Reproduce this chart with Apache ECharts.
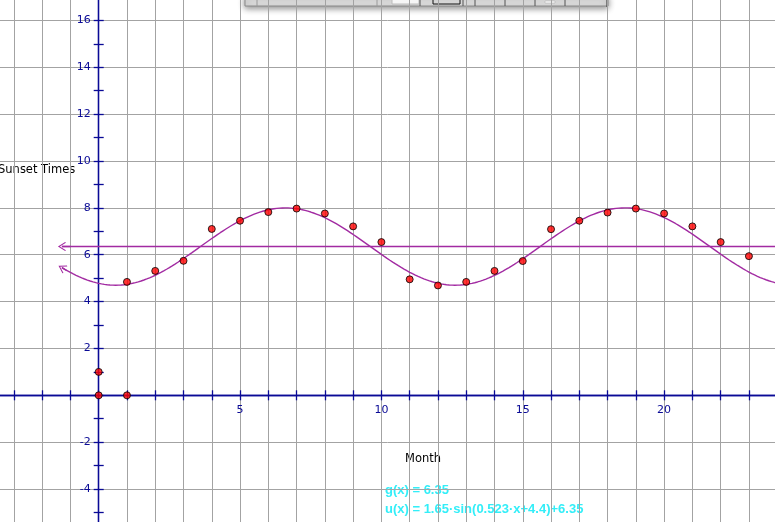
<!DOCTYPE html>
<html>
<head>
<meta charset="utf-8">
<title>Sunset Times</title>
<style>
  html, body { margin: 0; padding: 0; background: #fff; overflow: hidden; }
  #main { width: 775px; height: 522px; }
</style>
</head>
<body>
<div id="main"></div>
<script src="https://cdn.jsdelivr.net/npm/echarts@6/dist/echarts.min.js"></script>
<script>
// data
var months = [1, 2, 3, 4, 5, 6, 7, 8, 9, 10, 11, 12, 13, 14, 15, 16, 17, 18, 19, 20, 21, 22, 23];
var sunset = [4.84, 5.31, 5.74, 7.10, 7.45, 7.82, 7.97, 7.76, 7.21, 6.54, 4.95, 4.69,
              4.84, 5.31, 5.73, 7.09, 7.45, 7.80, 7.97, 7.76, 7.21, 6.54, 5.94];
// the unit points of the sketch: origin, (0,1), (1,0)
var unitPoints = [[0, 0], [0, 1], [1, 0]];
// coefficients printed under the chart
var gValue = 6.35;
var uAmp = 1.65, uFreq = 0.523, uPhase = 4.4, uMid = 6.35;
var xLabelTicks = [5, 10, 15, 20];
var curveStart = -1.3, curveEnd = 24;

var axisBlue = '#0a0a96';
var purple = '#a22ba2';
var gridGray = '#a3a3a3';

// grid box is bigger than the canvas so that the axes can start on whole numbers
var gridLeft = -14.4, gridRight = -2.2, gridTop = -3.0, gridBottom = -13.9;
var originX = 98.7, originY = 395.3;

function u(x) {
    return uAmp * Math.sin(uFreq * x + uPhase) + uMid;
}

var points = months.map(function (m, i) { return [m, sunset[i]]; });

// plot of u(x)
var curve = [];
for (var x = curveStart; x <= curveEnd + 1e-9; x += 0.05) {
    curve.push([x, u(x)]);
}

// open arrow head like the sketchpad one
var chevron = 'path://M0,0 L6,9 L5,10 L0,2.4 L-5,10 L-6,9 Z';

var myChart = echarts.init(document.getElementById('main'), null, {renderer: 'canvas'});
var W = 775, H = 522;

var option = {
    backgroundColor: '#fff',
    animation: false,
    textStyle: {fontFamily: 'DejaVu Sans'},
    grid: {
        left: gridLeft, right: gridRight, top: gridTop, bottom: gridBottom,
        containLabel: false, outerBoundsMode: 'none'
    },
    xAxis: [
        {
            type: 'value', min: -4, max: 24, interval: 1, position: 'bottom',
            offset: -((H - gridBottom) - originY),
            axisLine: {show: true, onZero: false, lineStyle: {color: axisBlue, width: 1.3}},
            axisTick: {show: true, length: 5, lineStyle: {color: axisBlue, width: 1.3}},
            axisLabel: {
                color: axisBlue, fontSize: 11, margin: 9,
                formatter: function (v) {
                    return xLabelTicks.indexOf(v) >= 0 ? String(v) : '';
                }
            },
            splitLine: {show: true, lineStyle: {color: gridGray, width: 1}}
        },
        {
            // upper half of the x ticks
            type: 'value', min: -4, max: 24, interval: 1, position: 'top',
            offset: -(originY - gridTop),
            axisLine: {show: true, onZero: false, lineStyle: {color: axisBlue, width: 1.3}},
            axisTick: {show: true, length: 5, lineStyle: {color: axisBlue, width: 1.3}},
            axisLabel: {show: false},
            splitLine: {show: false}
        }
    ],
    yAxis: [
        {
            type: 'value', min: -6, max: 17, interval: 1, position: 'left',
            offset: -(originX - gridLeft),
            axisLine: {show: true, onZero: false, lineStyle: {color: axisBlue, width: 1.3}},
            axisTick: {show: true, length: 5, lineStyle: {color: axisBlue, width: 1.3}},
            axisLabel: {
                color: axisBlue, fontSize: 11, margin: 8,
                formatter: function (v) {
                    return (v !== 0 && v % 2 === 0) ? String(v) : '';
                }
            },
            splitLine: {show: false}
        },
        {
            // right half of the y ticks
            type: 'value', min: -6, max: 17, interval: 1, position: 'right',
            offset: -((W - gridRight) - originX),
            axisLine: {show: true, onZero: false, lineStyle: {color: axisBlue, width: 1.3}},
            axisTick: {show: true, length: 5, lineStyle: {color: axisBlue, width: 1.3}},
            axisLabel: {show: false},
            splitLine: {show: false}
        },
        {
            // horizontal grid every 2
            type: 'value', min: -6, max: 17, interval: 2, position: 'left',
            axisLine: {show: false},
            axisTick: {show: false},
            axisLabel: {show: false},
            splitLine: {show: true, lineStyle: {color: gridGray, width: 1}}
        }
    ],
    series: [
        {
            name: 'g',
            type: 'line',
            data: [[curveStart, gValue], [curveEnd, gValue]],
            showSymbol: false,
            silent: true,
            lineStyle: {color: purple, width: 1.4},
            markLine: {
                silent: true,
                symbol: [chevron, 'none'],
                symbolSize: [9, 8],
                label: {show: false},
                emphasis: {disabled: true},
                lineStyle: {color: purple, width: 1.4, type: 'solid'},
                data: [[{coord: [curveStart, gValue]}, {coord: [curveStart + 0.3, gValue]}]]
            }
        },
        {
            name: 'u',
            type: 'line',
            data: curve,
            showSymbol: false,
            silent: true,
            lineStyle: {color: purple, width: 1.4},
            markLine: {
                silent: true,
                symbol: [chevron, 'none'],
                symbolSize: [9, 8],
                label: {show: false},
                emphasis: {disabled: true},
                lineStyle: {color: purple, width: 1.4, type: 'solid'},
                data: [[{coord: curve[0]}, {coord: curve[3]}]]
            }
        },
        {
            name: 'Sunset Times',
            type: 'scatter',
            data: points,
            symbolSize: 7,
            itemStyle: {color: '#ff0000', borderColor: '#000', borderWidth: 1},
            z: 5
        },
        {
            name: 'unit',
            type: 'scatter',
            data: unitPoints,
            symbolSize: 7,
            itemStyle: {color: '#ff0000', borderColor: '#000', borderWidth: 1},
            z: 5
        }
    ],
    graphic: [
        {
            type: 'text', x: -2, y: 164,
            style: {text: 'Sunset Times', fill: '#000', font: '11.5px "DejaVu Sans"'}
        },
        {
            type: 'text', x: 405, y: 453,
            style: {text: 'Month', fill: '#000', font: '11.5px "DejaVu Sans"'}
        },
        {
            type: 'text', x: 385, y: 484,
            style: {text: 'g(x) = 6.35', fill: '#33eef8', font: 'bold 13px "Liberation Sans"'}
        },
        {
            type: 'text', x: 385, y: 503,
            style: {text: 'u(x) = 1.65\u00b7sin(0.523\u00b7x+4.4)+6.35', fill: '#33eef8', font: 'bold 13px "Liberation Sans"'}
        },
        // piece of a floating tool palette at the top
        {
            type: 'group', x: 0, y: 0, z: 100,
            children: [
                {
                    type: 'rect', shape: {x: 245, y: -4, width: 363, height: 10},
                    style: {fill: '#dedede', stroke: '#8a8a8a', lineWidth: 1,
                            shadowBlur: 6, shadowOffsetY: 2, shadowColor: 'rgba(0,0,0,0.45)'}
                },
                {type: 'line', shape: {x1: 257, y1: -4, x2: 257, y2: 6}, style: {stroke: '#9a9a9a', lineWidth: 1}},
                {type: 'line', shape: {x1: 377, y1: -4, x2: 377, y2: 6}, style: {stroke: '#9a9a9a', lineWidth: 1}},
                {type: 'rect', shape: {x: 392, y: -4, width: 27, height: 8}, style: {fill: '#f6f6f6', stroke: '#bcbcbc', lineWidth: 1}},
                {type: 'line', shape: {x1: 420, y1: -4, x2: 420, y2: 6}, style: {stroke: '#555', lineWidth: 1}},
                {type: 'rect', shape: {x: 433, y: -4, width: 27, height: 8}, style: {fill: 'none', stroke: '#111', lineWidth: 1}},
                {type: 'line', shape: {x1: 463, y1: -4, x2: 463, y2: 6}, style: {stroke: '#555', lineWidth: 1}},
                {type: 'line', shape: {x1: 475, y1: -4, x2: 475, y2: 6}, style: {stroke: '#555', lineWidth: 1}},
                {type: 'line', shape: {x1: 505, y1: -4, x2: 505, y2: 6}, style: {stroke: '#555', lineWidth: 1}},
                {type: 'line', shape: {x1: 535, y1: -4, x2: 535, y2: 6}, style: {stroke: '#555', lineWidth: 1}},
                {type: 'rect', shape: {x: 545, y: 1, width: 10, height: 2}, style: {fill: '#fafafa', stroke: '#aaa', lineWidth: 0.5}},
                {type: 'line', shape: {x1: 565, y1: -4, x2: 565, y2: 6}, style: {stroke: '#555', lineWidth: 1}},
                {type: 'line', shape: {x1: 607, y1: -4, x2: 607, y2: 7}, style: {stroke: '#444', lineWidth: 1.2}}
            ]
        }
    ]
};

myChart.setOption(option);
</script>
</body>
</html>
